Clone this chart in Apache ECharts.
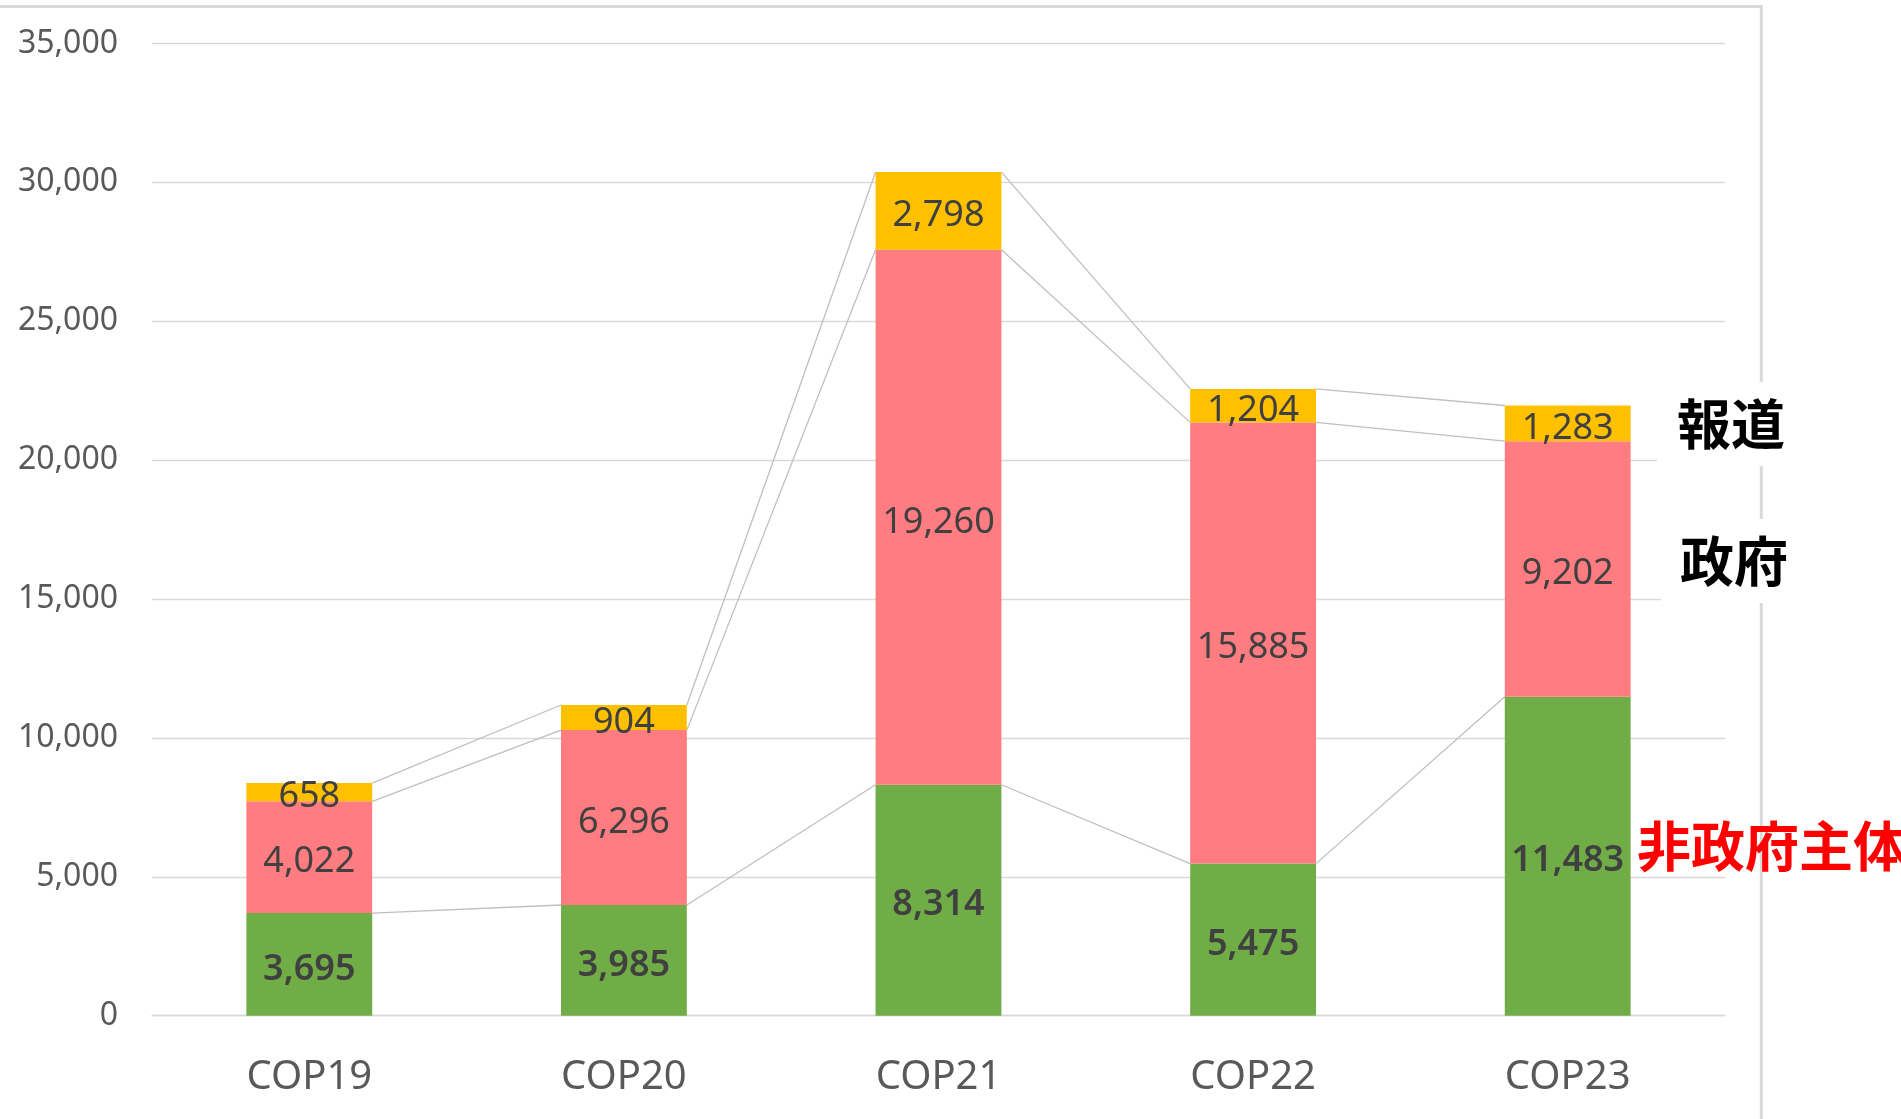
<!DOCTYPE html>
<html>
<head>
<meta charset="utf-8">
<script src="https://cdn.jsdelivr.net/npm/echarts@6/dist/echarts.min.js"></script>
<style>
  html, body { margin: 0; padding: 0; background: #fff; }
  #main { width: 1901px; height: 1119px; }
</style>
</head>
<body>
<div id="main"></div>
<script>
// COP参加者数の内訳
var categories = ['COP19', 'COP20', 'COP21', 'COP22', 'COP23'];
var nonGov = [3695, 3985, 8314, 5475, 11483];   // 非政府主体
var gov = [4022, 6296, 19260, 15885, 9202];     // 政府
var press = [658, 904, 2798, 1204, 1283];       // 報道
var yTicks = [0, 5000, 10000, 15000, 20000, 25000, 30000, 35000];

// 系列線用の累積値
var cum1 = nonGov.slice();
var cum2 = nonGov.map(function (v, i) { return v + gov[i]; });
var cum3 = cum2.map(function (v, i) { return v + press[i]; });
var levels = [cum1, cum2, cum3];

var myChart = echarts.init(document.getElementById('main'));

function fmt(p) {
    return Number(p.value).toLocaleString('en-US');
}

var labelBase = {
    show: true,
    position: 'inside',
    offset: [0, 5],
    color: '#404040',
    fontSize: 36,
    fontFamily: 'Noto Sans'
};

var option = {
    animation: false,
    backgroundColor: '#fff',
    textStyle: { fontFamily: 'Noto Sans' },
    grid: { left: 152, right: 176, top: 43.5, bottom: 103.3 },
    xAxis: {
        type: 'category',
        data: categories,
        axisLine: { lineStyle: { color: '#d9d9d9', width: 1.3 } },
        axisTick: { show: false },
        axisLabel: { color: '#595959', fontSize: 40, margin: 42 }
    },
    yAxis: {
        type: 'value',
        min: yTicks[0],
        max: yTicks[yTicks.length - 1],
        interval: 5000,
        axisLine: { show: false },
        axisTick: { show: false },
        splitLine: { lineStyle: { color: '#d9d9d9', width: 1.3 } },
        axisLabel: {
            color: '#595959', fontSize: 32, margin: 34, padding: [10, 0, 0, 0],
            formatter: function (v) { return v.toLocaleString('en-US'); }
        }
    },
    series: [
        {
            name: '非政府主体', type: 'bar', stack: 'total', barWidth: '40%',
            itemStyle: { color: '#70ad47' },
            label: Object.assign({}, labelBase, { fontWeight: 600, formatter: fmt }),
            data: nonGov
        },
        {
            name: '政府', type: 'bar', stack: 'total',
            itemStyle: { color: '#ff7c80' },
            label: Object.assign({}, labelBase, { formatter: fmt }),
            data: gov
        },
        {
            name: '報道', type: 'bar', stack: 'total',
            itemStyle: { color: '#ffc000' },
            label: Object.assign({}, labelBase, { formatter: fmt }),
            data: press
        },
        {
            // 棒の端どうしを結ぶ系列線
            type: 'custom',
            silent: true,
            encode: { x: 0, y: 1 },
            data: [[0, 0], [1, 0], [2, 0], [3, 0]],
            renderItem: function (params, api) {
                var i = api.value(0);
                var half = api.size([1, 0])[0] * 0.4 / 2;
                var children = [];
                levels.forEach(function (cum) {
                    var p1 = api.coord([i, cum[i]]);
                    var p2 = api.coord([i + 1, cum[i + 1]]);
                    children.push({
                        type: 'line',
                        shape: { x1: p1[0] + half, y1: p1[1], x2: p2[0] - half, y2: p2[1] },
                        style: { stroke: '#bfbfbf', lineWidth: 1.3 }
                    });
                });
                return { type: 'group', children: children };
            }
        }
    ],
    graphic: [
        {
            type: 'rect', z: 0, silent: true,
            shape: { x: -10, y: 6.5, width: 1771.3, height: 1200 },
            style: { fill: 'none', stroke: '#d9d9d9', lineWidth: 3 }
        },
        {
            type: 'text', z: 100, x: 1731, y: 424,
            style: {
                text: '報道', fill: '#000', align: 'center', verticalAlign: 'middle',
                font: 'bold 54px "Noto Sans CJK JP"',
                backgroundColor: '#fff', padding: [15, 20]
            }
        },
        {
            type: 'text', z: 100, x: 1734, y: 561,
            style: {
                text: '政府', fill: '#000', align: 'center', verticalAlign: 'middle',
                font: 'bold 54px "Noto Sans CJK JP"',
                backgroundColor: '#fff', padding: [15, 19]
            }
        },
        {
            type: 'text', z: 100, x: 1637, y: 846,
            style: {
                text: '非政府主体', fill: '#ff0000', align: 'left', verticalAlign: 'middle',
                font: 'bold 54px "Noto Sans CJK JP"'
            }
        }
    ]
};

myChart.setOption(option);
</script>
</body>
</html>
